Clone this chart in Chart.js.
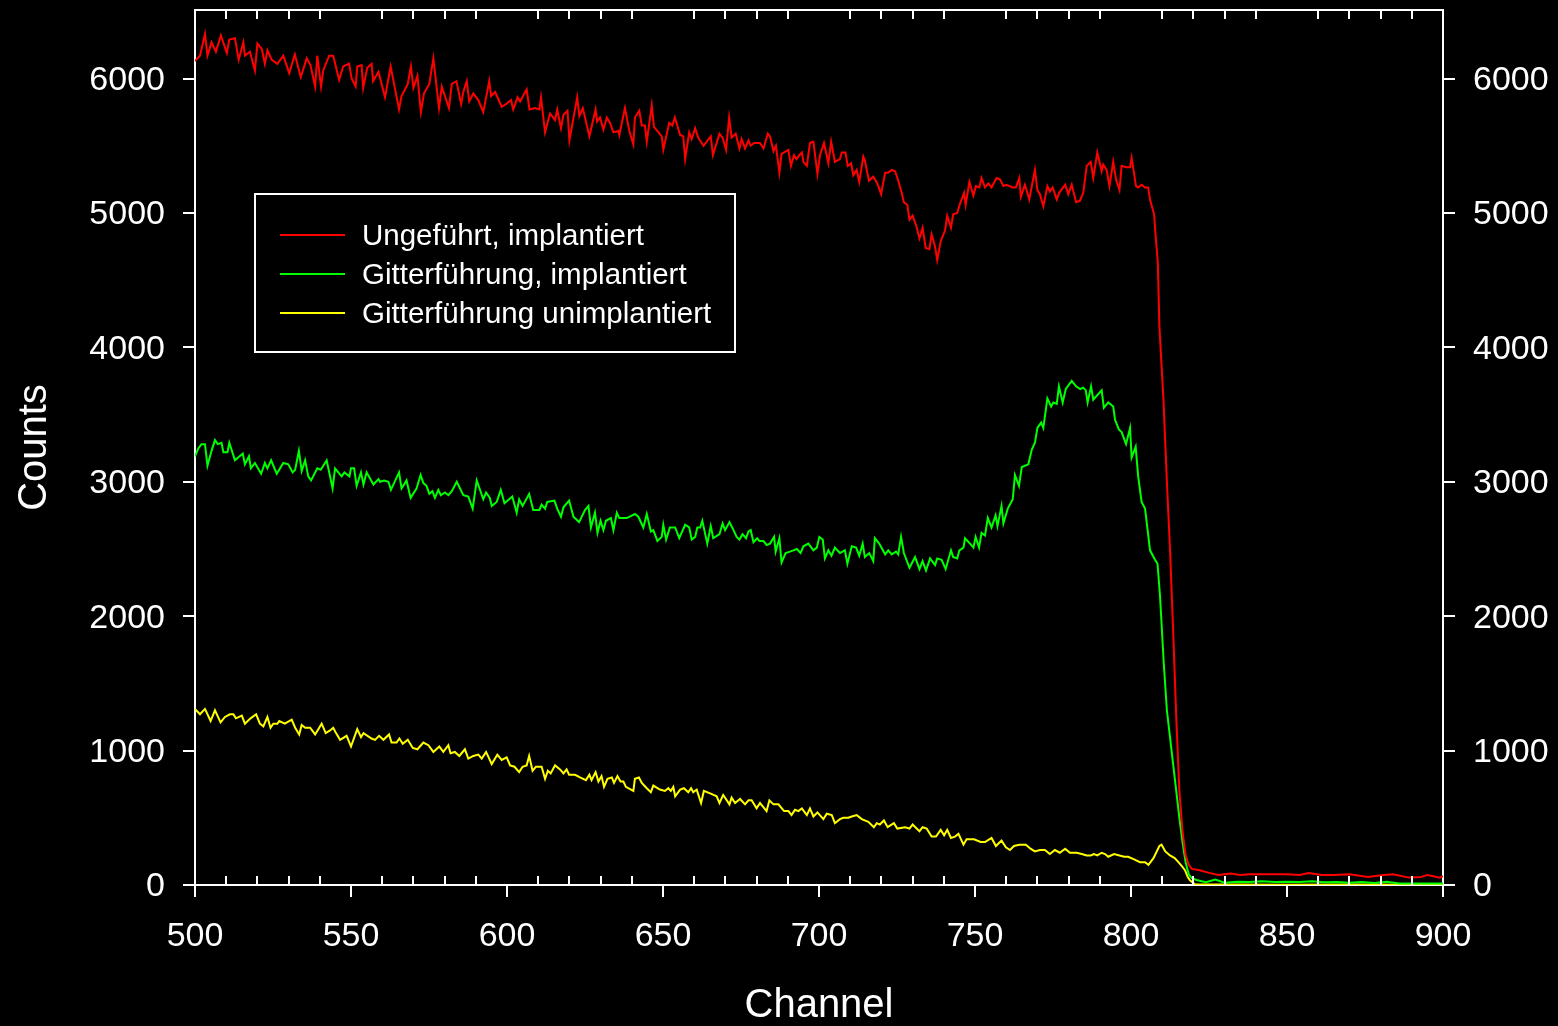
<!DOCTYPE html>
<html>
<head>
<meta charset="utf-8">
<script src="https://cdn.jsdelivr.net/npm/chart.js@4.4.0/dist/chart.umd.min.js"></script>
<style>
  html, body { margin: 0; background: #000; }
  #wrap { width: 1558px; height: 1026px; }
</style>
</head>
<body>
<div id="wrap"><canvas id="spec"></canvas></div>
<script>
// ── DATA (channel, counts) ──
const seriesNames = ['Ungeführt, implantiert', 'Gitterführung, implantiert', 'Gitterführung unimplantiert'];
const seriesColors = ['#ff0000', '#00ff00', '#ffff00'];

const xTickVals = [500, 550, 600, 650, 700, 750, 800, 850, 900];
const yTickVals = [0, 1000, 2000, 3000, 4000, 5000, 6000];

const redPts = [
  [500,6130],[501.6,6170],[503.2,6330],[504,6170],[505.3,6270],[506.7,6200],[508.3,6320],[510.2,6190],[511,6290],[512.8,6300],
  [514,6140],[515.5,6270],[516,6170],[517.6,6200],[519.2,6060],[520,6260],[521.4,6220],[522.4,6110],[523.2,6210],[524.6,6140],
  [526.4,6110],[528.3,6170],[530.2,6040],[532,6180],[533.9,6010],[535.8,6150],[537,6100],[538.5,5940],[539.2,6170],[540.4,5940],
  [541.1,6060],[543,6170],[544.3,6170],[546.2,5990],[547.5,6090],[549.4,6110],[550.2,6000],[551.5,5940],[552,6090],[553.4,6100],
  [553.9,5930],[555.2,6080],[556.6,6110],[557.1,5980],[558.8,6050],[560.9,5860],[562.7,6090],[565.4,5770],[566.2,5870],[568.2,5960],
  [569.2,6090],[570,5930],[571.3,6020],[572.4,5750],[573.4,5890],[575.1,5960],[576.4,6150],[578.2,5780],[579.1,5940],[581.4,5780],
  [582.3,5960],[583.8,5980],[585.3,5810],[586,5900],[587.1,5980],[587.9,5830],[589.2,5890],[590.8,5840],[592.4,5750],[594.3,5980],
  [594.9,5870],[596.2,5900],[598.3,5790],[599.7,5810],[601.3,5840],[602,5770],[603.4,5860],
  [604.2,5830],[606.3,5920],[607.2,5770],[609,5780],[610.4,5770],[610.9,5860],[612.2,5600],[613.8,5740],[615.4,5690],[616.1,5770],
  [617.3,5630],[618.1,5730],[619.4,5760],[620,5540],[622.5,5860],[623.2,5720],[624.3,5780],[626.4,5570],[628.4,5770],[628.9,5680],
  [629.8,5710],[630.9,5620],[632,5710],[633,5670],[634.1,5600],[635.7,5610],[636,5580],[637.8,5780],[639.2,5610],[640.5,5510],
  [641,5710],[642.4,5760],[643.2,5650],[644.2,5650],[644.8,5530],[646.4,5800],[647.1,5640],[649.6,5570],[650.1,5470],[652,5670],
  [653,5650],[653.8,5710],[655.5,5580],[656.5,5570],[657.1,5400],[658.4,5600],[659.2,5550],[660.3,5630],[661.3,5560],[663,5500],
  [665.3,5570],[666,5430],[668.1,5590],[669.1,5560],[670.2,5470],[671.2,5710],[672,5560],[673.3,5590],[674.5,5480],[675.2,5550],
  [676.3,5480],[677.4,5540],[678.1,5500],[679.2,5520],[681.1,5520],[682.2,5480],[683.6,5590],[684.3,5570],[685.4,5460],[686.2,5500],
  [687.3,5300],[688,5440],[690.2,5470],[691,5350],[692,5430],[692.8,5400],[693.7,5430],[694.5,5450],[695,5380],[696.1,5350],
  [697.1,5520],[698.2,5530],[699.5,5290],[700.3,5430],[701.6,5520],[703,5370],[703.9,5530],[705.1,5380],[706.7,5400],
  [707.3,5450],[708.5,5450],[709.2,5350],[710.3,5370],[711,5280],[712.1,5320],[712.9,5230],[714.2,5420],[714.7,5390],[716,5240],
  [717.4,5270],[718.7,5220],[719.9,5140],[721.2,5300],[722.2,5300],[723.3,5320],[724.4,5310],[725.4,5240],[726.5,5150],[727.2,5080],
  [728.3,5060],[729,4950],[730,4980],[731.1,4910],[732.2,4810],[733.2,4890],[734.2,4740],[735.4,4730],[736.1,4840],[737.2,4750],
  [737.9,4650],[739,4790],[740.4,4870],[741.1,4980],[742.3,4890],[743,4990],[744.3,5000],[745.2,5070],[746.5,5150],[747,5060],
  [748.2,5230],[749.5,5130],[750.3,5200],[751.4,5190],[752.1,5260],[753.2,5190],[754.3,5220],[755.3,5190],[756.9,5260],[758,5250],
  [759.1,5200],[760.1,5210],[762.1,5190],[763.1,5190],[764.2,5260],[764.7,5120],[766,5210],[767.4,5100],[769.2,5320],[770,5170],
  [770.8,5140],[771.9,5050],[773.2,5200],[774,5160],[774.9,5190],[776.2,5100],[777,5150],[778.9,5210],[779.9,5140],[781,5210],
  [782.4,5080],[783.6,5090],[784.7,5150],[785.8,5350],[787.1,5380],[787.9,5260],[789.2,5450],[790.6,5310],[791.1,5360],[792.2,5320],
  [793.1,5200],[794.3,5380],[795.2,5250],[796.3,5170],[797,5350],[798.4,5340],[799.7,5340],[800.2,5410],[801.6,5200],[802.3,5190],
  [803.4,5210],[804.5,5190],[805.5,5190],[806.1,5100],[807.4,4990],[808,4800],[808.6,4630],[809.1,4160],[809.8,3860],[810.4,3610],
  [811.5,3000],[812.5,2500],[813.5,1900],[814.5,1250],[815.5,700],[816.5,400],[817.5,220],[818.5,150],[819.5,120],
  [822,110],[825,90],[828,75],[832,85],[835,75],[838,80],[841,80],[846,80],[850,80],[854,75],[857,90],[861,75],[865,75],
  [870,80],[876,60],[881,75],[884,80],[889,55],[893,60],[895,75],[899,55],[900,65]
];

const greenPts = [
  [500,3190],[501.1,3250],[502.1,3280],[503.2,3280],[504,3120],[505.3,3230],[506.4,3310],[507.3,3280],[508.5,3290],[509.1,3220],
  [510.4,3220],[511,3290],[512.8,3160],[515.3,3210],[516,3130],[517.3,3190],[517.9,3100],[519.2,3140],[521.2,3060],[522.4,3140],
  [523.2,3100],[524.4,3160],[526.2,3060],[528.3,3140],[529.9,3130],[531.3,3070],[532.1,3090],[533.3,3230],[534.2,3080],[535.3,3160],
  [536.3,3040],[537.2,3010],[539.2,3100],[540.3,3090],[542.2,3160],[544.1,2950],[544.9,3100],[547,3040],[547.9,3070],[549.5,3040],
  [550,3100],[551,3100],[551.8,2970],[553.2,3070],[554,2980],[555,3070],[557.2,2980],[558.8,3020],[559.3,3000],[560.6,3010],
  [562,3000],[562.8,2940],[565.4,3070],[566.2,2950],[567.8,3010],[569.1,2880],[571,2950],[572.3,3050],[573.2,2990],[574.2,2970],
  [575.1,2910],[576.1,2930],[576.9,2880],[578,2940],[578.8,2900],[580.1,2920],[581.2,2900],[582.3,2930],[583.9,3000],[586,2900],
  [587.6,2890],[589,2800],[590.3,3010],[592.4,2870],[593.3,2920],[594.5,2880],[595.1,2820],[596.7,2850],[598,2940],[599.2,2840],
  [601.7,2890],[603.1,2770],[603.9,2870],
  [605,2820],[607.1,2910],[608.4,2790],[610.4,2790],[611.1,2830],[612.2,2800],[612.9,2850],[615.2,2860],[616.1,2800],[617.3,2740],
  [618.1,2810],[619.9,2860],[621.3,2740],[623.1,2700],[625,2790],[626.1,2820],[626.9,2660],[628.2,2770],[629,2620],[630,2710],
  [630.9,2640],[631.7,2710],[633.3,2730],[634.1,2640],[635.2,2770],[636,2730],[638.4,2730],[641,2760],[642.1,2740],[643.7,2660],
  [644.8,2760],[646.1,2630],[646.9,2640],[648.2,2560],[649.6,2590],[650.1,2680],[651,2570],[652.2,2660],[653.9,2660],[655.2,2580],
  [657.1,2680],[658.4,2660],[659.2,2570],[660.3,2590],[661,2660],[661.9,2660],[662.6,2710],[664.2,2540],[665.3,2670],[666.1,2580],
  [668.1,2610],[669.1,2690],[669.9,2640],[671.3,2700],[672.6,2640],[673.6,2590],[674.5,2570],[675.5,2610],[676.6,2580],[677.4,2630],
  [678.1,2640],[679,2550],[680.2,2580],[680.9,2560],[682.2,2560],[683.2,2530],[684.3,2540],[685.6,2590],[686.1,2480],[687.3,2580],
  [688,2400],[689.3,2470],[690.7,2480],[691.8,2490],[692.9,2500],[694.1,2470],[695,2520],[696.6,2540],[698.2,2490],[699.3,2510],
  [700.1,2590],[701.2,2570],[701.9,2430],[703,2490],[704,2450],[705.1,2510],[706.7,2470],
  [708.3,2490],[709.1,2390],[710.5,2520],[711.9,2510],[712.9,2450],[714,2540],[714.7,2440],[716.1,2470],[717.4,2410],[717.9,2580],
  [719.3,2540],[721.2,2460],[722.2,2490],[723.3,2460],[724.7,2480],[725.4,2460],[726.3,2590],[727.2,2470],[729,2360],[730.8,2440],
  [732.2,2350],[733.2,2410],[734.3,2340],[735.6,2430],[737.2,2380],[737.9,2430],[739.3,2420],[740.6,2350],[742.3,2490],[743,2440],
  [744.3,2430],[745,2490],[746.3,2510],[746.8,2580],[748.4,2540],[749.5,2510],[750.2,2590],[751.3,2510],[752.1,2620],[753.2,2600],
  [754.1,2730],[755.3,2660],[756.6,2750],[757.2,2670],[758.5,2820],[759.1,2690],[760.5,2800],[762.1,2870],[762.8,3050],[764.1,2970],
  [765,3110],[767.1,3130],[768.2,3240],[769.2,3290],[770,3400],[771.2,3440],[771.9,3400],[773.2,3620],[774.4,3560],[775.1,3590],
  [776.2,3580],[776.9,3710],[778.1,3590],[779.1,3690],[781,3750],[782.4,3710],[783.7,3690],[784.7,3700],[785.5,3680],[786.1,3590],
  [787.2,3710],[787.9,3610],[790.6,3680],[791.3,3550],[792.7,3590],[794.3,3560],[794.9,3460],[796.1,3390],[797,3370],[798.4,3280],
  [799.7,3400],[800.2,3180],[801.5,3260],[802.3,3040],[803.4,2850],[804.5,2800],[806.1,2490],[807.7,2420],[808.5,2390],[809.3,2150],
  [810.5,1650],[811.5,1300],[812.5,1100],[813.5,900],[814.5,700],[815.5,500],[816.5,320],[817.5,170],[818.5,80],[819.5,50],[821,37],
  [824,20],[827,40],[830,17],[834,25],[838,22],[842,27],[846,22],[850,25],[854,22],[858,27],[862,20],[866,22],[870,17],
  [874,22],[878,15],[882,25],[886,12],[890,12],[895,12],[900,12]
];

const yellowPts = [
  [500,1310],[501.6,1270],[503.2,1310],[505,1220],[506.4,1300],[508.2,1210],[509.6,1250],[511.2,1270],[512.3,1270],[513.1,1240],
  [515,1260],[516,1200],[517.8,1240],[519.6,1270],[520.8,1200],[521.9,1180],[523.2,1250],[524.2,1170],[525.1,1200],[526.4,1200],
  [527,1220],[528.8,1200],[531,1230],[532.1,1170],[533.4,1120],[534.2,1190],[535.3,1170],[536.9,1170],[538.5,1120],[540.6,1200],
  [541.9,1130],[543.3,1150],[544.3,1170],[545.2,1130],[546.5,1080],[548.6,1110],[550,1030],[552,1160],[553.2,1100],[554,1130],
  [556.6,1090],[557.7,1080],[559,1110],[560.4,1080],[562.2,1120],[563,1060],[564.6,1060],[565.5,1090],[566.6,1050],[568.2,1080],
  [569.8,1020],[571.3,1010],[573.2,1060],[574.8,1040],[576.4,990],[578.3,1030],[579.6,990],[581.2,1040],[581.9,980],[583.3,990],
  [584.7,960],[586.5,1010],[587.6,940],[589.2,960],[590.8,970],[591.9,940],[593.3,990],[595.1,900],[596.9,970],[598.3,930],
  [599.9,950],[601,890],[602.4,880],[603.9,840],
  [605,880],[606.3,890],[607.1,960],[608.2,850],[609.3,880],[611.1,880],[612.2,790],[613.1,850],[614,830],[615.4,890],
  [617,860],[618.1,830],[619.1,860],[619.9,820],[621.8,820],[623.4,800],[625.3,780],[626.4,820],[627.1,780],[628.4,840],
  [629.3,770],[630.3,810],[631.1,730],[632.2,790],[633.6,800],[634.3,760],[635.4,810],[636.4,770],[637.3,770],[638.1,730],
  [640.5,700],[641,790],[642.3,800],[643.2,760],[644.8,720],[646.1,690],[646.9,740],[649,710],[650.6,700],[651.7,720],
  [652.5,700],[653.3,730],[653.9,660],[655.5,710],[656.7,720],[658.1,690],[659,720],[659.7,690],[660.8,710],[662.2,610],
  [663.1,700],[665.3,680],[667.2,660],[668.1,610],[669.3,670],[671.3,600],[672,650],[673.1,610],[674.7,640],[676.3,600],
  [677.4,630],[678.4,630],[680,570],[681.1,610],[683.2,550],[684.1,630],[685.4,600],[687,600],[688.8,550],[690.2,550],
  [691.2,520],[692.3,560],[693.4,550],[694.5,570],[696.1,520],[697.1,570],[698.2,510],[699.5,540],[701.4,490],[702.5,530],
  [704.1,520],[705.1,460],[706.7,490],
  [707.8,500],[709.4,500],[710.5,510],[712.1,520],[713.7,490],[715.8,470],[717.6,430],[718.5,460],[719.5,450],[720.8,480],
  [722,430],[724,460],[725.1,420],[727.6,430],[729,420],[730,450],[731.3,420],[732.2,400],[733.2,430],[734.5,420],
  [736.1,360],[737.5,360],[739,410],[740.1,370],[741.1,410],[742.3,350],[743.6,360],[744.7,380],[746.3,300],[747.3,340],
  [749.7,340],[751.8,320],[753.2,320],[755.3,350],[756.7,290],[758.5,330],[759.9,280],[761.2,260],[762.5,290],[764.2,300],
  [766.3,300],[767.8,270],[769.2,250],[770.8,260],[772.4,260],[774,230],[775.6,260],[777.2,240],[778.9,270],[780.4,240],
  [782.6,240],[784.2,230],[785.8,220],[787.1,220],[788.1,230],[789.2,220],[790.6,240],[791.7,230],[792.7,210],[794.6,230],
  [796.3,220],[797.8,210],[799.1,210],[801,190],[802.9,170],[804.5,170],[805.6,150],[807.2,200],[809.1,290],[809.8,300],
  [811,250],[812.5,220],[814,200],[815.2,170],[816.3,140],[817.3,110],[818.2,60],[818.9,35],[820.5,5],
  [830,3],[850,2],[870,3],[900,2]
];

const xMin = 500, xMax = 900, xMinor = 10;
const yMin = 0, yMax = 6510;

const FONT = '"Liberation Sans", Arial, sans-serif';

// ── PLUGINS ───────────────────────────────────
// inward minor ticks on the bottom and top edges
const minorTicks = {
  id: 'minorTicks',
  afterDraw(chart) {
    const { ctx, chartArea: a, scales: { x } } = chart;
    ctx.save();
    ctx.strokeStyle = '#fff';
    ctx.lineWidth = 2;
    ctx.beginPath();
    for (let v = xMin + xMinor; v < xMax; v += xMinor) {
      if (xTickVals.includes(v)) continue;
      const px = Math.round(x.getPixelForValue(v));
      ctx.moveTo(px, a.bottom); ctx.lineTo(px, a.bottom - 9);
      ctx.moveTo(px, a.top);    ctx.lineTo(px, a.top + 9);
    }
    ctx.stroke();
    ctx.restore();
  }
};

// boxed legend inside the plot
const boxLegend = {
  id: 'boxLegend',
  afterDatasetsDraw(chart) {
    const { ctx, chartArea: a } = chart;
    const bx = a.left + 60, by = a.top + 184, bw = 480, bh = 158;
    ctx.save();
    ctx.fillStyle = '#000';
    ctx.fillRect(bx, by, bw, bh);
    ctx.strokeStyle = '#fff';
    ctx.lineWidth = 2;
    ctx.strokeRect(bx, by, bw, bh);
    ctx.font = '29.5px ' + FONT;
    ctx.textBaseline = 'middle';
    ctx.fillStyle = '#fff';
    chart.data.datasets.forEach((ds, i) => {
      const y = by + 43 + i * 39;
      ctx.strokeStyle = ds.borderColor;
      ctx.lineWidth = 2;
      ctx.beginPath();
      ctx.moveTo(bx + 25, y - 2); ctx.lineTo(bx + 90, y - 2);
      ctx.stroke();
      ctx.fillText(ds.label, bx + 107, y);
    });
    ctx.restore();
  }
};

// ── CHART ─────────────────────────────────────
const toXY = pts => pts.map(p => ({ x: p[0], y: p[1] }));
const setTicks = vals => s => { s.ticks = vals.map(v => ({ value: v })); };
const plainLabel = v => String(v);

const axisGrid = { display: true, drawOnChartArea: false, drawTicks: true, tickLength: 12, color: '#fff', lineWidth: 2 };
const axisBorder = { display: true, color: '#fff', width: 2 };
const tickFont = { family: FONT, size: 34 };

new Chart(document.getElementById('spec'), {
  type: 'line',
  data: {
    datasets: [redPts, greenPts, yellowPts].map((pts, i) => ({
      label: seriesNames[i],
      data: toXY(pts),
      borderColor: seriesColors[i],
      borderWidth: 2,
      pointRadius: 0,
      tension: 0,
      fill: false
    }))
  },
  options: {
    responsive: true,
    maintainAspectRatio: false,
    devicePixelRatio: 1,
    animation: false,
    layout: { padding: 0 },
    plugins: { legend: { display: false }, tooltip: { enabled: false } },
    scales: {
      x: {
        type: 'linear', position: 'bottom', min: xMin, max: xMax,
        ticks: { color: '#fff', font: tickFont, padding: 19, maxRotation: 0, autoSkip: false, callback: plainLabel },
        grid: axisGrid, border: axisBorder,
        title: { display: true, text: 'Channel', color: '#fff', font: { family: FONT, size: 40, lineHeight: 1 }, padding: 0 },
        afterBuildTicks: setTicks(xTickVals),
        afterFit: s => { s.height = 141; s.paddingLeft = 0; s.paddingRight = 0; }
      },
      xTop: {
        type: 'linear', position: 'top', min: xMin, max: xMax,
        ticks: { display: false },
        grid: { display: false, drawTicks: false },
        border: axisBorder,
        afterFit: s => { s.height = 10; s.paddingLeft = 0; s.paddingRight = 0; }
      },
      y: {
        type: 'linear', position: 'left', min: yMin, max: yMax,
        ticks: { color: '#fff', font: tickFont, padding: 18, labelOffset: 2, autoSkip: false, callback: plainLabel },
        grid: axisGrid, border: axisBorder,
        title: { display: true, text: 'Counts', color: '#fff', font: { family: FONT, size: 40, lineHeight: 1 }, padding: { top: 15 } },
        afterBuildTicks: setTicks(yTickVals),
        afterFit: s => { s.width = 195; s.paddingTop = 0; s.paddingBottom = 0; }
      },
      yRight: {
        type: 'linear', position: 'right', min: yMin, max: yMax,
        ticks: { color: '#fff', font: tickFont, padding: 18, labelOffset: 2, autoSkip: false, callback: plainLabel },
        grid: axisGrid, border: axisBorder,
        afterBuildTicks: setTicks(yTickVals),
        afterFit: s => { s.width = 115; s.paddingTop = 0; s.paddingBottom = 0; }
      }
    }
  },
  plugins: [minorTicks, boxLegend]
});
</script>
</body>
</html>
